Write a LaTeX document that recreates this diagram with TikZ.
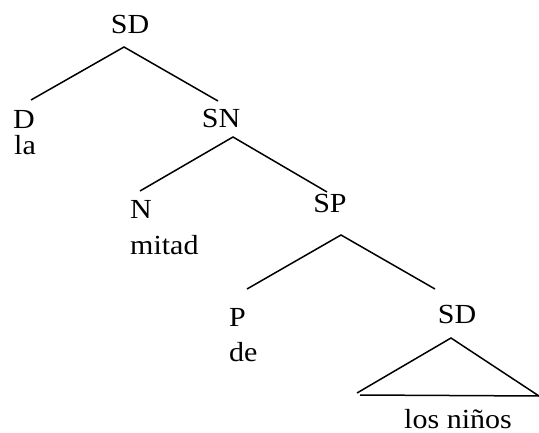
\documentclass[tikz,border=0pt]{standalone}
\usepackage{fontspec}
\setmainfont{Liberation Serif}
\begin{document}
\begin{tikzpicture}[x=1pt,y=1pt,
  lbl/.style={inner sep=0pt, font=\fontsize{30}{36}\selectfont},
  edge/.style={line width=1.5pt, line cap=butt}]
\useasboundingbox (0,0) rectangle (539,432);
\newcommand{\sq}[1]{\scalebox{1}[0.92]{#1}}
% labels
\node[lbl, anchor=base] (sd1) at (130,398) {\sq{SD}};
\node[lbl, anchor=base west] (d) at (13,303) {\sq{D}};
\node[lbl, anchor=base west] (la) at (14,277) {\sq{la}};
\node[lbl, anchor=base] (sn) at (221,304) {\sq{SN}};
\node[lbl, anchor=base west] (n) at (130,214) {\sq{N}};
\node[lbl, anchor=base west] (mitad) at (130,178) {\sq{mitad}};
\node[lbl, anchor=base] (sp) at (330,219) {\sq{SP}};
\node[lbl, anchor=base west] (p) at (229,106) {\sq{P}};
\node[lbl, anchor=base west] (de) at (229,71) {\sq{de}};
\node[lbl, anchor=base] (sd2) at (457,109) {\sq{SD}};
\node[lbl, anchor=base] (los) at (458,4) {\sq{los niños}};
% line end points
\coordinate (a1) at (124,385);
\coordinate (a1l) at (31,332);
\coordinate (a1r) at (218,331);
\coordinate (a2) at (233,295);
\coordinate (a2l) at (140,241);
\coordinate (a2r) at (327,240);
\coordinate (a3) at (341,197);
\coordinate (a3l) at (247,143);
\coordinate (a3r) at (435,143);
\coordinate (t) at (451,94);
\coordinate (tl) at (357,39);
\coordinate (bl) at (360,37);
\coordinate (tr) at (539,36);
\draw[edge] (a1l) -- (a1) -- (a1r);
\draw[edge] (a2l) -- (a2) -- (a2r);
\draw[edge] (a3l) -- (a3) -- (a3r);
\draw[edge] (tl) -- (t) -- (tr);
\draw[edge] (bl) -- (tr);
\end{tikzpicture}
\end{document}
